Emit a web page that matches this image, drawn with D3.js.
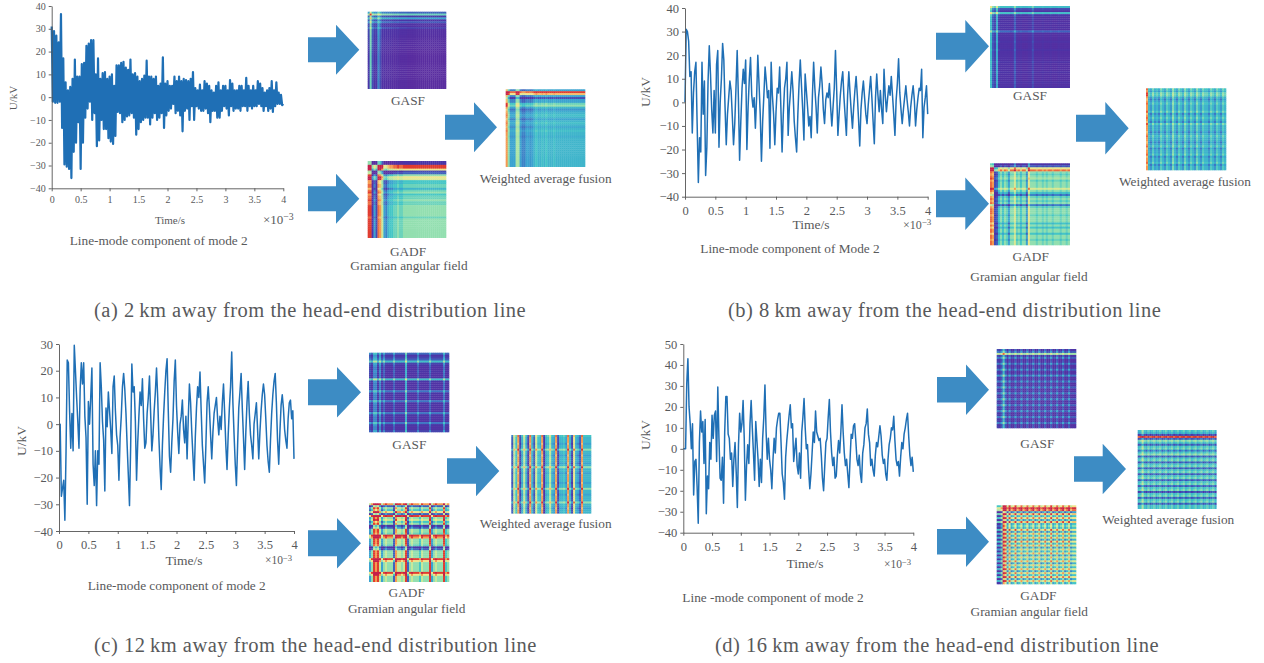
<!DOCTYPE html>
<html>
<head>
<meta charset="utf-8">
<script src="https://cdn.jsdelivr.net/npm/d3@7"></script>
<style>
  html, body { margin: 0; background: #fff; }
  text { font-family: "Liberation Serif", serif; fill: #58595b; }
</style>
</head>
<body>
<svg id="chart" width="1264" height="663"></svg>
<script>
// Time axis runs 0..4 (x10^-3 s), samples are evenly spaced along it
const timeTicks = [0, 0.5, 1, 1.5, 2, 2.5, 3, 3.5, 4]
const voltTicksAB = [-40, -30, -20, -10, 0, 10, 20, 30, 40]
const voltTicksC = [-40, -30, -20, -10, 0, 10, 20, 30]
const voltTicksD = [-40, -30, -20, -10, 0, 10, 20, 30, 40, 50]

const seriesA = [31,-2,29,-2.5,27,-2.5,24,-2,36.5,-13.5,17,-29.5,6.5,-30.5,3,-31.5,4.5,-35.5,8,-24,16.5,-20,9,-11,9,-31.5,14.5,-20,15,-9,22.5,-5,23.5,-2,25,-10,25,-7,10,-21.5,17,-19,8,-10,10.5,-14,11,-14,8,-18,9,-19.5,10,-20.5,5,-17,14,-6.5,14,-7,15,-11,15.5,-10,13,-8.5,12,-8,16.5,-7,10,-9,10.5,-16.5,9,-14,7,-11,8,-10,9.5,-9,16,-9,9,-12,9,-9,8,-7,9,-10,5,-9,6,-7,17.5,-13.5,6,-8,7,-6,5,-5,5,-3,9,-7,7,-6,9,-8,7,-15,8,-6,7.5,-5,7,-10,8,-4,11,-10,4,-4,3,-5,5.5,-6,3,-6,7,-5,6,-7,5,-11,3,-6,2,-6,5,-9,6.5,-9,3,-6,5,-4,5,-5,3,-8,7.5,-4,6,-6,3,-5,3,-5,5,-6,5,-4,3,-4,8.5,-6,5,-4,3,-5,5,-4,3,-4,7,-3,6,-4,4,-6,2,-4,3,-6,4,-5,7,-6.5,3,-4,6.5,-3,2,-3,1,-3.5,-3]

const seriesB = [0,31,30,26,11,13,-13,4,13,17,-9,-34,-15,-21,17,-5,9,-31,-19,9,24,12,-3,-13,5,-13,16,22,-19,0,10,25,18,-2,-18,-5,2,9,5,-6,-18,-9,6,22,2,-24.5,-8,6,14,8,18,-20,-2,10,19,3,-2,2,-11,2,20,8,-5,-25,-8,3,15,9,2,5,-19.5,17,3,-5,-18,-4,6,4,15,-2,-21,-5,6,10,17,-14,-2,5,13,5,-8,-15,-21,-5,8,18,7,-3,-16,12,5,-2,-10,-6,-15,3,17,6,-2,-13,2,7,15,8,-3,-9,1,4,2,8,-2,-10,-2,6,22,5,-14,-5,3,9,13,2,-6,-14,3,13,4,-4,-11,-2,5,11,3,-7,-18.5,-3,4,9,2,-5,-9,-1,5,11,2,-8,-17.5,2,12,3,-4,5,-3,-9,14,3,-4,2,7,3,11,3,-5,-14,1,8,18.5,4,-3,-9,-3,2,7,1,-4,-10,-2,3,7,1,-10,-3,2,6,5,14,-15,-2,2,7,-5]

const seriesC = [0,0,-27,-24,-21,-36,-10,24,23,5,-9,4,-10,29.5,20,10,1,-9,13,23,15,23,3,-5,-30,8.5,0,10,21,-15,-23,-10,-30.5,-10,-15,23,14,1,-6,-25,6,-1,12,5,-2,-11,14,18,5,-4,-8,-21,-5,3,14,19,13,4,-8,-19,-30.5,-8,22.5,12,14,1,-21,-7,3,12,7,17,2,-9,-7,4,10,18,4,-10,-4,5,12,21,10,-5,-16,-24.5,-8,3,12,20,24.5,5,-12,-18,-7,2,16,24,7,-3,-11,0,3,9,-2,-7,3,-13,2,15,8,-3,-12,-21,-5,6,14,10,19.5,5,-8,-15,-22,-8,8,14,6,-4,-13,-3,4,7,10,2,-4,3,-2,8,15,4,-8,-17,-4,6,14,27,8,-4,-15,-23,-8,6,12,19,6,-5,-17,-3,8,16,4,-4,-8,-13,0,4,8,-2,-13,-3,5,11,15,11,2,-8,-14,-18,-6,4,11,16,19,8,-6,-15,-3,7,11,6,-2,-6,-9,2,8,9,2,5,-13]

const seriesD = [0,0,0,31,43,20,12,0,12,-22,-6,-5,-18,-35.5,3,18,8,13,-7,14,-31,-13,-19,3,-5,16,5,16,18,-6,29.5,5,-14,-15,-4,-26,8,25,25,7,5,-5,-2,-18,-5,3,-11,-28,2,17,8,12,23,5,-24.5,-8,2,-7,12,23,10,-2,-15,13,4,-5,-18,-5,-16,5,15,30.5,8,-5,5,-5,-10,-19,-5,5,-2,10,14,17,17,3,-12,-16,-24,-4,4,10,16,21,10,12,-6,0,5,-8,-12,-2,-14,8,15,24,10,0,2,-10,-19,-12,-2,8,3,18,8,6,4,5,-3,-14,-20,-8,3,5,15,23.5,8,-2,-8,-4,-14,-13,-3,4,-2,8,21,8,-2,-8,-5,-12,-18.5,-5,7,5,11,12,4,-5,-8,-3,-12,-16,-2,2,10,12,19,7,3,-8,-5,-10,-13,-3,3,1,6,11,6,-3,-7,-5,-12,-15,-5,2,5,10,9,15.5,4,-5,-8,-6,-13,-4,3,0,7,10,14,17,6,-3,-8,-4,-11]

// Image strips, 40 bands top to bottom / left to right, on the 0..10 colour scale
const gasfRowsA = [2,4.5,1,3,0.8,1.8,0.5,0.5,1.2,0.4,0.4,0.4,0.3,0.3,0.2,0.2,0.2,0.2,0.1,0.1,0,0,0,0,0,0,0,0,0,0,0,0,0,0,0,0,0,0,0,0]
const gasfColsA = [1,4.5,1.5,0.8,0.8,2.5,1.5,0.5,0.5,0.4,0.4,0.4,0.3,0.2,0.2,0.3,0.1,0.1,0.1,0.1,0,0,0,0,0,0,0,0,0,0,0,0,0,0,0,0,0,0,0,0]
const gadfRowsA = [1,1,9,9,7,1.5,2,5,7,6.5,4,4,4.5,4.5,3.5,4.5,5,4,4.5,4.5,5,4.5,4.5,5,5,5,5,5,5,4.5,5,5,5,5,5,5,5,5,5,5]
const gadfColsA = [9,9,1,3,1.5,8.5,8,6,3,2.5,3.5,4,4,4.5,4.5,5,4.5,4.5,5,5,5,5,5,5,5,5,5,5,5,5,5,5,5,5,5,5,5,5,5,5]
const fuseRowsA = [3,9,7.5,3,1.5,3,3,4.5,5,3.5,2.8,3.2,3.5,3.8,3.5,3,3.5,3.8,3.5,3.2,3.5,3.8,3.5,3.5,3.3,3.5,3.5,3.5,3.5,3.5,3.5,3.5,3.5,3.5,3.5,3.5,3.5,3.5,3.5,3.5]
const fuseColsA = [8,5,3,3,3,5.5,5.5,3,2.5,2.5,3,3,2.8,3,3.5,4,3.5,3.5,3.8,3.5,4,3.5,3.5,3.5,3.8,3.5,3.5,3.5,3.5,3.5,3.5,3.5,3.5,3.5,3.5,3.5,3.5,3.5,3.5,3.5]

const gasfRowsB = [3.5,1.2,0.6,3.5,0.8,0.4,0.4,0.2,0.5,0.2,0.4,0.2,1.8,0.2,0.2,0.2,0.2,0.5,0.2,0.2,0.2,0.5,0.2,0.2,0.2,0.2,0.2,0.5,0.2,0.2,0.2,0.2,0.5,0.2,0.2,0.2,0.2,0.5,0.2,0.4]
const gasfColsB = [3.5,1.5,1,3,0.8,0.4,0.4,0.4,0.4,0.4,0.2,0.4,1.6,0.4,0.2,0.4,0.2,0.2,0.2,0.4,0.4,1.2,0.2,0.2,0.2,0.2,0.4,0.2,0.2,0.2,0.4,0.2,0.2,0.2,0.4,0.2,0.2,0.2,0.2,0.2]
const gadfRowsB = [1,2,7,8.5,5,4.5,5,5.5,4.5,5,5,5,6.5,5,4,2.5,4.5,5,4.5,5,2.5,4.5,5,5,5,4.5,5,5,5,4,5,4,5,5,4,5,5,4.5,5,5]
const gadfColsB = [8.5,8,1.5,2,4,5,4,5,4.5,3,5,5,6.5,4.5,5,4,5,5,3,7,5,5,5,4.5,5,5,4.5,5,4.5,5,5,4.5,5,5,5,4.5,5,5,4.5,5]
const fuseRowsB = [4,3.5,4.5,4.5,3.5,3,3.5,4,3.5,3.5,3.5,4.2,3,3.5,4,3.5,3,4.3,3.5,3.5,3.5,3,3.5,4,3.5,3.5,3,3.5,4,3,3.5,3.5,4,3,3.5,3.5,4,3,3.5,3.5]
const fuseColsB = [8,3.5,2.8,4.2,3,3.5,2.8,4.3,3.5,2.8,4.2,3.5,2.8,4.8,3.5,2.8,4.2,3.5,2.8,4.5,3.5,2.8,4.2,3.5,2.8,4.5,3.5,2.8,4.2,3.5,3.5,2.8,4.2,3.5,2.8,4.2,3.5,2.8,4.2,3.5]

const gasfRowsC = [1.8,0.6,1,1.6,3.5,1,0.6,0.3,0.3,0.6,0.3,0.3,0.3,3.5,0.6,0.3,0.3,0.3,0.3,2,0.6,0.3,0.3,0.3,2,0.6,0.3,0.3,0.3,0.3,2,0.6,0.3,0.3,0.3,2,0.6,0.3,0.3,1]
const gasfColsC = [1,0.4,2.2,2.2,0.6,2.2,0.4,1.6,0.3,0.3,0.3,0.3,1.6,0.3,0.3,0.3,0.3,0.3,3,0.3,0.3,0.3,0.3,0.3,1.6,0.3,0.3,0.3,0.3,0.3,1.6,0.3,0.3,0.3,0.3,0.3,0.3,2,0.3,0.3]
const gadfRowsC = [8,2,5,4,7,2,9,5,6,4,5,1,2,5,5,4.5,9,8,5,5,5,4.5,1,2,5,5,5,5,9,7,5,5,5,5,5,9,7,5,5,5]
const gadfColsC = [3,5,9,8,9,6,3,5,6,5,5,5,2,8,6,6,5,6,9,2,5,6,5,5,5,4,6,5,5,5,9,3,5,6,5,5,5,9,4,5]
const fuseRowsC = [4,3.5,3.5,3.5,3,3.5,3.5,5,3.5,3.5,3,3.5,3.5,3.5,3,3.5,5,3.5,3.5,3,3.5,3.5,3.5,3.5,3,3.5,3.5,5,3.5,3.5,3,3.5,3.5,3.5,5,3.5,3.5,3,3.5,3.5]
const fuseColsC = [2,6,4,8,1.5,3.5,6,3.5,1.5,8,3.5,2,6.5,4,3.5,8,1,3.5,4,6,3.5,3,8,1.5,3.5,3.5,4,3,8,3.5,1.5,7,3.5,3,2,8,3.5,3.5,3.5,3.5]

const gasfRowsD = [0.6,1.5,5,0.5,1.6,0.1,0.3,1.6,0.1,0.3,1.6,0.1,0.3,2,0.1,0.3,1.6,0.1,0.3,1.6,0.1,0.3,1.6,0.1,0.3,1.6,0.1,0.3,1.6,0.1,0.3,1.6,0.1,0.3,1.6,0.1,0.3,1.6,0.1,0.3]
const gasfColsD = [1,0.6,1.5,3.5,1.5,0.1,1.6,0.1,0.3,1.6,0.1,0.3,1.6,0.1,0.3,1.6,0.1,0.3,1.6,0.1,0.3,1.6,0.1,0.3,1.6,0.1,0.3,1.6,0.1,0.3,1.6,0.1,0.3,1.6,0.1,0.3,1.6,0.1,0.3,0.3]
const gadfRowsD = [7,9.5,8.5,3,7.5,4,7,3.5,7.5,4,5,4,7,3.5,6.5,4,6.5,3.5,7,4,6.5,3.5,6,4,6.5,3.5,6,4,6.5,3.5,6,4,6.5,3.5,6.5,4,7,3.5,6.5,4]
const gadfColsD = [2,2,3.5,9,7.5,4,7,4,5,7,4,5,6.5,4,5,6.5,4,5,6.5,4,5,6.5,4,5,6.5,4,5,7,4,5,6.5,4,5,6.5,4,5,6.5,4,5,5]
const fuseRowsD = [4,3.5,1.5,9,2,5,4,2,4,4.5,2.5,4,5,2,4,4.5,2,4,4.5,2,4,4.5,2,4,4.5,2,4,4.5,2,4,4.5,1.5,4,4.5,2,4,4.5,2,4,4]
const fuseColsD = [3,3.5,5,3.5,3,4,3,3.5,4,3,3.5,4,3,3.5,4,3,3.5,4,3,3.5,4,3,3.5,4,3,3.5,4,3,3.5,4,3,3.5,4,3,3.5,4,3,3.5,4,3]

const colorStops = ['#5a2ea0', '#4a36a8', '#3f62bd', '#3ba3d0', '#45c6c6', '#93dfb0', '#c6e99a', '#f0e68c', '#f59a50', '#e03c30', '#c4204a']
const color = d3.scaleLinear().domain(d3.range(0, 11)).range(colorStops).clamp(true)

const svg = d3.select('#chart')
const lineColor = '#1f6fb5'
const arrowColor = '#3d8cc4'
const textColor = '#58595b'

function label(x, y, str, size, anchor = 'middle') {
  return svg.append('text').attr('x', x).attr('y', y)
    .attr('text-anchor', anchor).style('font-size', size + 'px').text(str)
}

function drawPlot(p) {
  const x = d3.scaleLinear().domain([0, 4]).range([p.left, p.right])
  const y = d3.scaleLinear().domain(d3.extent(p.yTicks)).range([p.bottom, p.top])
  const step = (i) => (i / (p.values.length - 1)) * 4

  const line = d3.line().x((d, i) => x(step(i))).y((d) => y(d))
  svg.append('path').datum(p.values)
    .attr('fill', 'none').attr('stroke', lineColor)
    .attr('stroke-width', p.lineWidth).attr('stroke-linejoin', 'round')
    .attr('d', line)

  const xAxis = d3.axisBottom(x).tickValues(timeTicks).tickFormat(d3.format('~g')).tickSize(3).tickSizeOuter(0).tickPadding(p.xPad)
  const yAxis = d3.axisLeft(y).tickValues(p.yTicks).tickSize(3).tickSizeOuter(0).tickPadding(p.yPad)
  const gx = svg.append('g').attr('transform', `translate(0,${p.bottom})`).call(xAxis)
  const gy = svg.append('g').attr('transform', `translate(${p.left},0)`).call(yAxis)
  for (const g of [gx, gy]) {
    g.selectAll('path,line').attr('stroke', '#555').attr('stroke-width', 0.9)
    g.selectAll('text').style('font-size', p.tickSize + 'px').style('font-family', '"Liberation Serif", serif').attr('fill', textColor)
  }

  label(p.ylabel[0], p.ylabel[1], 'U/kV', p.ylabel[2])
    .attr('transform', `rotate(-90,${p.ylabel[0]},${p.ylabel[1]})`)
  label(p.xlabel[0], p.xlabel[1], 'Time/s', p.xlabel[2])

  const exp = label(p.exp[0], p.exp[1], '×10', p.exp[2], 'start')
  exp.append('tspan').attr('dy', -p.exp[2] * 0.3).style('font-size', p.exp[2] * 0.75 + 'px').text('−3')

  label(p.sub[0], p.sub[1], p.sub[2], 13.3)
}

// One image: cell value is the row strip plus the column strip over a base level
function drawImage(box, rows, cols, base) {
  const bx = d3.scaleBand().domain(d3.range(cols.length)).range([box[0], box[1]])
  const by = d3.scaleBand().domain(d3.range(rows.length)).range([box[2], box[3]])
  const g = svg.append('g').style('filter', 'blur(0.6px)')
  const cells = rows.flatMap((r, i) => cols.map((c, j) => ({ i, j, v: r + c - base })))
  g.selectAll('rect').data(cells).join('rect')
    .attr('x', (d) => bx(d.j)).attr('y', (d) => by(d.i))
    .attr('width', bx.bandwidth() + 0.3).attr('height', by.bandwidth() + 0.3)
    .attr('fill', (d) => color(d.v))
}

function drawArrow(a) {
  const [x0, xb, x1, yc, shaftH, headH] = a
  const pts = [[x0, yc - shaftH], [xb, yc - shaftH], [xb, yc - headH], [x1, yc], [xb, yc + headH], [xb, yc + shaftH], [x0, yc + shaftH]]
  svg.append('polygon').attr('points', pts.join(' ')).attr('fill', arrowColor)
}

const panels = [
  {
    values: seriesA, yTicks: voltTicksAB, left: 51.7, right: 283.3, top: 6, bottom: 188.3,
    lineWidth: 2.2, tickSize: 10, xPad: 5, yPad: 3,
    ylabel: [17, 98, 11], xlabel: [170, 224, 11], exp: [263, 224, 13],
    sub: [158.7, 245, 'Line-mode component of mode 2'],
    caption: [94, 317, '(a) 2\u2009km away from the head-end distribution line'],
    gasf: [367.7, 446, 11.7, 88.7], gadf: [367.7, 446, 161, 237.7], fuse: [505.7, 585, 89.3, 166.7],
    strips: [gasfRowsA, gasfColsA, gadfRowsA, gadfColsA, fuseRowsA, fuseColsA],
    arrows: [[308, 336, 359.3, 49.7, 12.5, 25], [308, 336, 359.3, 198.7, 12.5, 25], [445, 474, 497, 127.3, 12.5, 25]],
    names: [[408, 105], [408, 255.5], [409, 270], [545.7, 183]],
  },
  {
    values: seriesB, yTicks: voltTicksAB, left: 685, right: 927.7, top: 8, bottom: 196.7,
    lineWidth: 1.5, tickSize: 12.5, xPad: 6, yPad: 3,
    ylabel: [650, 92, 13.5], xlabel: [811, 228.5, 13.5], exp: [903, 229, 12],
    sub: [790, 252.7, 'Line-mode component of Mode 2'],
    caption: [728, 317, '(b) 8\u2009km away from the head-end distribution line'],
    gasf: [990, 1069.7, 6, 87.7], gadf: [990, 1069.7, 163.3, 245], fuse: [1146, 1226, 88.3, 170],
    strips: [gasfRowsB, gasfColsB, gadfRowsB, gadfColsB, fuseRowsB, fuseColsB],
    arrows: [[936, 965.3, 989, 46.3, 13.5, 26.3], [936, 965.3, 989, 203.7, 13.5, 26.3], [1076, 1105.3, 1128.7, 128.3, 13.5, 26.3]],
    names: [[1030, 100], [1030.7, 261], [1029, 280.7], [1185, 185.7]],
  },
  {
    values: seriesC, yTicks: voltTicksC, left: 59, right: 294, top: 344, bottom: 531,
    lineWidth: 1.5, tickSize: 12.5, xPad: 6, yPad: 3,
    ylabel: [26, 441, 13.5], xlabel: [184, 565, 13.5], exp: [265, 564, 11.5],
    sub: [176.7, 590, 'Line-mode component of mode 2'],
    caption: [94, 652, '(c) 12\u2009km away from the head-end distribution line'],
    gasf: [369, 449, 352.7, 432], gadf: [369, 449, 503.3, 581.7], fuse: [511.3, 591, 435, 513.3],
    strips: [gasfRowsC, gasfColsC, gadfRowsC, gadfColsC, fuseRowsC, fuseColsC],
    arrows: [[308, 337, 361, 392.3, 13, 25.3], [308, 337, 361, 543.3, 13, 25.3], [447, 476, 499.3, 471, 12.8, 25.2]],
    names: [[409.3, 449], [406.7, 596.7], [406.7, 612.7], [545.7, 528.3]],
  },
  {
    values: seriesD, yTicks: voltTicksD, left: 683.3, right: 913.3, top: 344, bottom: 532.7,
    lineWidth: 1.5, tickSize: 12.5, xPad: 6, yPad: 3,
    ylabel: [650, 435, 13.5], xlabel: [805, 568, 13.5], exp: [884, 568, 11.5],
    sub: [773, 601.7, 'Line -mode component of mode 2'],
    caption: [715, 652, '(d) 16\u2009km away from the head-end distribution line'],
    gasf: [996.7, 1076, 349, 428], gadf: [996.7, 1076, 505.3, 584], fuse: [1137.7, 1216.3, 430, 508.7],
    strips: [gasfRowsD, gasfColsD, gadfRowsD, gadfColsD, fuseRowsD, fuseColsD],
    arrows: [[937, 966, 989, 389.7, 12.8, 25.2], [937, 966, 989, 541.7, 12.7, 25.3], [1074, 1102.7, 1126, 469, 12.8, 25.3]],
    names: [[1037.3, 447.7], [1038.3, 600], [1029.3, 616], [1168.3, 524.3]],
  },
]

const imageNames = ['GASF', 'GADF', 'Gramian angular field', 'Weighted average fusion']

panels.forEach((p) => {
  drawPlot(p)
  drawImage(p.gasf, p.strips[0], p.strips[1], 0)
  drawImage(p.gadf, p.strips[2], p.strips[3], 5)
  drawImage(p.fuse, p.strips[4], p.strips[5], 3.5)
  p.arrows.forEach(drawArrow)
  p.names.forEach((n, i) => label(n[0], n[1], imageNames[i], 13.3))
  label(p.caption[0], p.caption[1], p.caption[2], 20.5, 'start').style('letter-spacing', '0.5px')
})
</script>
</body>
</html>
